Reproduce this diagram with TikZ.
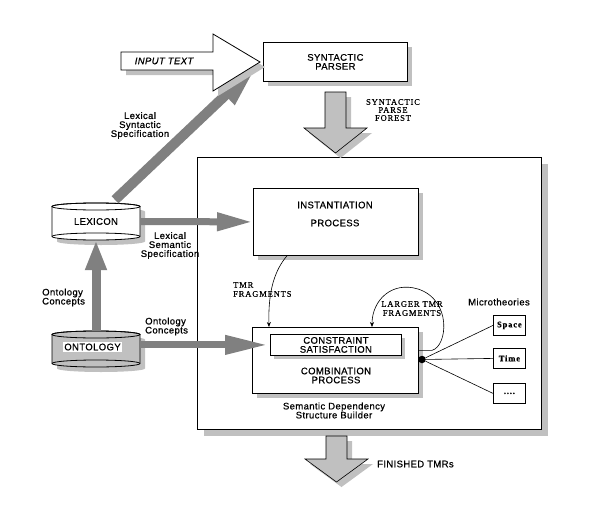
\documentclass[tikz,border=0pt]{standalone}
\usepackage{fontspec}
\setmainfont{Liberation Sans}[LetterSpace=4, FakeBold=0.6]
\newfontfamily\serf{Liberation Serif}[LetterSpace=10, FakeBold=0.5]
\usetikzlibrary{arrows.meta,calc,shadows}
\definecolor{shgray}{HTML}{C0C0C0}
\definecolor{argray}{HTML}{808080}
\definecolor{blkfill}{HTML}{C0C0C0}
\begin{document}
\begin{tikzpicture}[x=1pt,y=-1pt,
  lbl/.style={font=\fontsize{9.5}{9}\selectfont, inner sep=0pt, align=center},
  ser/.style={font=\serf\fontsize{8.5}{9}\selectfont, inner sep=0pt, align=center},
  shd/.style={drop shadow={shadow xshift=#1pt, shadow yshift=-#1pt, opacity=1, fill=shgray}},
  box/.style={draw=black, line width=0.8pt, fill=white, inner sep=0pt, anchor=north west, font=\fontsize{9.5}{9}\selectfont, align=center},
  blockarrow/.style={draw=black, line width=0.6pt, fill=blkfill, shd=5},
  thinline/.style={draw=black, line width=0.6pt},
  smalltip/.style={-{Stealth[length=5pt,width=4pt]}},
  micro/.style={box, minimum width=32pt, minimum height=20pt, font=\serf\bfseries\fontsize{8.5}{9}\selectfont}
]
\useasboundingbox (0,0) rectangle (595,509);

% main box
\node[box, shd=7, minimum width=344pt, minimum height=272pt] (main) at (197,157) {};

% boxes
\node[box, shd=5, minimum width=144pt, minimum height=39pt] (parser) at (263,42) {SYNTACTIC\\PARSER};
\node[box, shd=5, minimum width=165pt, minimum height=67pt] (inst) at (253,188) {};
\node[lbl] (insttext) at (335,214) {INSTANTIATION\\[9pt]PROCESS};
\node[box, shd=5, minimum width=166pt, minimum height=66pt] (comb) at (252,327) {};
\node[lbl] (combtext) at (336,375.5) {COMBINATION\\PROCESS};
\node[box, shd=4, minimum width=131pt, minimum height=21pt] (cons) at (270,334) {CONSTRAINT\\SATISFACTION};

\node[micro] (space) at (493,315) {Space};
\node[micro] (time) at (493,348) {Time};
\node[micro] (etc) at (493,383) {....};
\node[lbl] (microth) at (499,302) {Microtheories};
\node[lbl] (sdsb) at (334,410.5) {Semantic Dependency\\Structure Builder};

% lexicon cylinder
\fill[shgray] (57,211.5) -- (57,241.5) arc[start angle=180,end angle=360,x radius=44pt,y radius=3.5pt] -- (145,211.5) arc[start angle=0,end angle=180,x radius=44pt,y radius=3.5pt] -- cycle;
\draw[fill=white, line width=0.8pt] (52,206.5) -- (52,236.5) arc[start angle=180,end angle=360,x radius=44pt,y radius=3.5pt] -- (140,206.5) arc[start angle=0,end angle=180,x radius=44pt,y radius=3.5pt] -- cycle;
\draw[line width=0.8pt] (96,206.5) ellipse [x radius=44pt, y radius=3.5pt];
\draw[line width=0.8pt] (52,236.5) arc[start angle=180,end angle=0,x radius=44pt,y radius=3.5pt];
\node[lbl, minimum width=88pt, minimum height=37pt] (lexicon) at (96,221.5) {LEXICON};

% ontology cylinder
\fill[shgray] (57,339.5) -- (57,368.5) arc[start angle=180,end angle=360,x radius=44pt,y radius=3.5pt] -- (145,339.5) arc[start angle=0,end angle=180,x radius=44pt,y radius=3.5pt] -- cycle;
\draw[fill=shgray, line width=0.8pt] (52,334.5) -- (52,363.5) arc[start angle=180,end angle=360,x radius=44pt,y radius=3.5pt] -- (140,334.5) arc[start angle=0,end angle=180,x radius=44pt,y radius=3.5pt] -- cycle;
\draw[line width=0.8pt] (96,334.5) ellipse [x radius=44pt, y radius=3.5pt];
\draw[line width=0.8pt] (52,363.5) arc[start angle=180,end angle=0,x radius=44pt,y radius=3.5pt];
\node[inner sep=0pt, minimum width=88pt, minimum height=36pt] (ontology) at (96,349.5) {};
\node[lbl, fill=white, minimum width=59pt, minimum height=10pt] (ontotext) at (92.5,347) {ONTOLOGY};

% thick grey arrows
\coordinate (lsstart) at ($(lexicon.north)+(19,-3)$);
\coordinate (lsend) at ($(parser.west)+(-5,2.5)$);
\draw[argray, line width=10pt, -{Triangle[length=45pt,width=24pt]}] (lsstart) -- (lsend);
\draw[argray, line width=7pt, -{Triangle[length=36pt,width=17pt]}] (lexicon.east) -- (inst.west);
\draw[argray, line width=7pt, -{Triangle[length=43pt,width=18pt]}] (ontology.east |- cons.west) -- ($(cons.west)+(-2,0)$);
\draw[argray, line width=9pt, -{Triangle[length=30pt,width=20pt]}] (ontology.north) -- (lexicon.south);

% input text block arrow
\path[draw=black, line width=0.8pt, fill=white, shd=5] (121,52) -- (213,52) -- (213,34) -- (260,62) -- (213,91) -- (213,70) -- (121,70) -- cycle;
\node[lbl, font=\itshape\fontsize{9.5}{9}\selectfont] (input) at (164,61) {INPUT TEXT};

% big block arrows
\path[blockarrow] (325,92) -- (346,92) -- (346,128) -- (367,128) -- (335.5,153) -- (304,128) -- (325,128) -- cycle;
\path[blockarrow] (326,436) -- (347,436) -- (347,459) -- (368,459) -- (336.5,482) -- (305,459) -- (326,459) -- cycle;

% thin connectors
\draw[thinline, smalltip] ($(inst.south west)+(34,0)$) .. controls (275,270) and (268,290) .. ($(comb.north west)+(17,0)$);
\coordinate (loopstart) at ($(comb.east)+(0,-10)$);
\draw[thinline, smalltip] (loopstart) -- ++(13,0) .. controls +(16,-4) and (452,300) .. (418,289) .. controls (392,281) and (372,300) .. ($(comb.north west)+(120,0)$);
\node[circle, fill=black, inner sep=0pt, minimum size=7.5pt] (dot) at (422,359.5) {};
\draw[thinline] (comb.east) -- (dot);
\draw[thinline] (dot) -- (space.west);
\draw[thinline] (dot) -- (time.west);
\draw[thinline] (dot) -- (etc.west);

% labels
\node[ser, font=\serf\fontsize{8.5}{8}\selectfont] (spf) at (393,110) {SYNTACTIC\\PARSE\\FOREST};
\node[ser, align=left, anchor=west] (tmrf) at (233,289.5) {TMR\\FRAGMENTS};
\node[ser] (ltmr) at (412,308.5) {LARGER TMR\\FRAGMENTS};
\node[lbl] (lss) at (140,125.5) {Lexical\\Syntactic\\Specification};
\node[lbl] (lsem) at (170,245.5) {Lexical\\Semantic\\Specification};
\node[lbl, align=left, anchor=west] (oc1) at (42,297.5) {Ontology\\Concepts};
\node[lbl, align=left, anchor=west] (oc2) at (145,326.5) {Ontology\\Concepts};
\node[lbl, anchor=west] (fin) at (377,464) {FINISHED TMRs};
\end{tikzpicture}
\end{document}
